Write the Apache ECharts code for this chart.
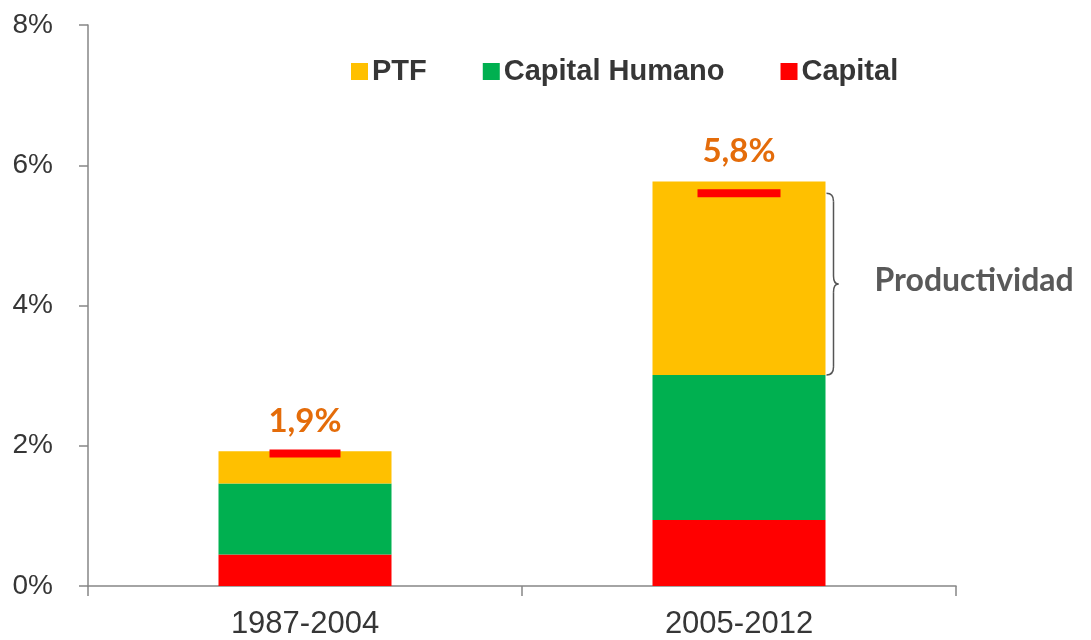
<!DOCTYPE html>
<html lang="es">
<head>
  <meta charset="UTF-8">
  <title>Crecimiento: PTF, Capital Humano, Capital</title>
  <script src="https://cdn.jsdelivr.net/npm/echarts@6.0.0/dist/echarts.min.js"></script>
  <style>
    body { margin: 0; background: #fff; }
    #chart { width: 1091px; height: 640px; }
  </style>
</head>
<body>
  <div id="chart"></div>
  <script>
    // datos (en %)
    const periods = ['1987-2004', '2005-2012'];
    const capital = [0.45, 0.94];
    const capitalHumano = [1.01, 2.07];
    const ptf = [0.46, 2.76];
    const totals = [1.9, 5.8];
    const markerValues = [1.89, 5.6];   // rayitas rojas dentro de la barra
    const yTicks = [0, 2, 4, 6, 8];

    // estilos
    const markerWidths = [71, 83];
    const barWidth = 173;
    const axisColor = '#868686';
    const textColor = '#363636';

    const chart = echarts.init(document.getElementById('chart'));
    chart.setOption({
      animation: false,
      grid: { left: 88, right: 135, top: 25, bottom: 52 },
      legend: {
        data: ['PTF', 'Capital Humano', 'Capital'],
        left: 346,
        top: 52,
        itemWidth: 17,
        itemHeight: 17,
        itemGap: 56,
        icon: 'rect',
        textStyle: { fontFamily: 'Liberation Sans', fontSize: 29, fontWeight: 'bold', color: textColor, padding: [0, 0, 0, -1] }
      },
      xAxis: {
        type: 'category',
        data: periods,
        axisLine: { lineStyle: { color: axisColor, width: 1.5 } },
        axisTick: { show: true, length: 10, lineStyle: { color: axisColor, width: 1.5 } },
        axisLabel: { fontFamily: 'Liberation Sans', fontSize: 31, color: textColor, margin: 23 }
      },
      yAxis: {
        type: 'value',
        min: yTicks[0],
        max: yTicks[yTicks.length - 1],
        interval: 2,
        splitLine: { show: false },
        axisLine: { show: true, lineStyle: { color: axisColor, width: 1.5 } },
        axisTick: { show: true, length: 9, lineStyle: { color: axisColor, width: 1.5 } },
        axisLabel: { formatter: '{value}%', fontFamily: 'Liberation Sans', fontSize: 28, color: textColor, margin: 35 }
      },
      series: [
        {
          name: 'Capital', type: 'bar', stack: 'total', barWidth: barWidth,
          itemStyle: { color: '#FF0000' }, data: capital
        },
        {
          name: 'Capital Humano', type: 'bar', stack: 'total', barWidth: barWidth,
          itemStyle: { color: '#00B050' }, data: capitalHumano
        },
        {
          name: 'PTF', type: 'bar', stack: 'total', barWidth: barWidth,
          itemStyle: { color: '#FFC000' }, data: ptf,
          label: {
            show: true,
            position: 'top',
            distance: 14,
            formatter: p => totals[p.dataIndex].toFixed(1).replace('.', ',') + '%',
            fontFamily: 'Lato',
            fontWeight: 'bold',
            fontSize: 33,
            color: '#E46C0A'
          }
        },
        {
          name: 'marca', type: 'scatter', data: markerValues, z: 10,
          symbol: 'rect',
          symbolSize: (v, p) => [markerWidths[p.dataIndex], 8],
          itemStyle: { color: '#FF0000', opacity: 1 },
          silent: true
        }
      ]
    });

    // llave "Productividad" al lado de la segunda barra
    const x0 = chart.convertToPixel({ gridIndex: 0 }, [1, 0])[0] + barWidth / 2 + 1;
    const yTop = chart.convertToPixel({ gridIndex: 0 }, [1, markerValues[1]])[1];
    const yBot = chart.convertToPixel({ gridIndex: 0 }, [1, capital[1] + capitalHumano[1]])[1];
    const yMid = (yTop + yBot) / 2;
    const x1 = x0 + 7, x2 = x0 + 12, r = 8;
    const braceStyle = { stroke: '#555', lineWidth: 1.5, fill: null };
    chart.setOption({
      graphic: [
        { type: 'bezierCurve', shape: { x1: x0, y1: yTop, cpx1: x1, cpy1: yTop, x2: x1, y2: yTop + r }, style: braceStyle },
        { type: 'line', shape: { x1: x1, y1: yTop + r, x2: x1, y2: yMid - r }, style: braceStyle },
        { type: 'bezierCurve', shape: { x1: x1, y1: yMid - r, cpx1: x1, cpy1: yMid, x2: x2, y2: yMid }, style: braceStyle },
        { type: 'bezierCurve', shape: { x1: x2, y1: yMid, cpx1: x1, cpy1: yMid, x2: x1, y2: yMid + r }, style: braceStyle },
        { type: 'line', shape: { x1: x1, y1: yMid + r, x2: x1, y2: yBot - r }, style: braceStyle },
        { type: 'bezierCurve', shape: { x1: x1, y1: yBot - r, cpx1: x1, cpy1: yBot, x2: x0, y2: yBot }, style: braceStyle },
        {
          type: 'text', x: x0 + 48, y: yMid - 3,
          style: { text: 'Productividad', font: 'bold 32px Lato', fill: '#595959', verticalAlign: 'middle' }
        }
      ]
    });
  </script>
</body>
</html>
